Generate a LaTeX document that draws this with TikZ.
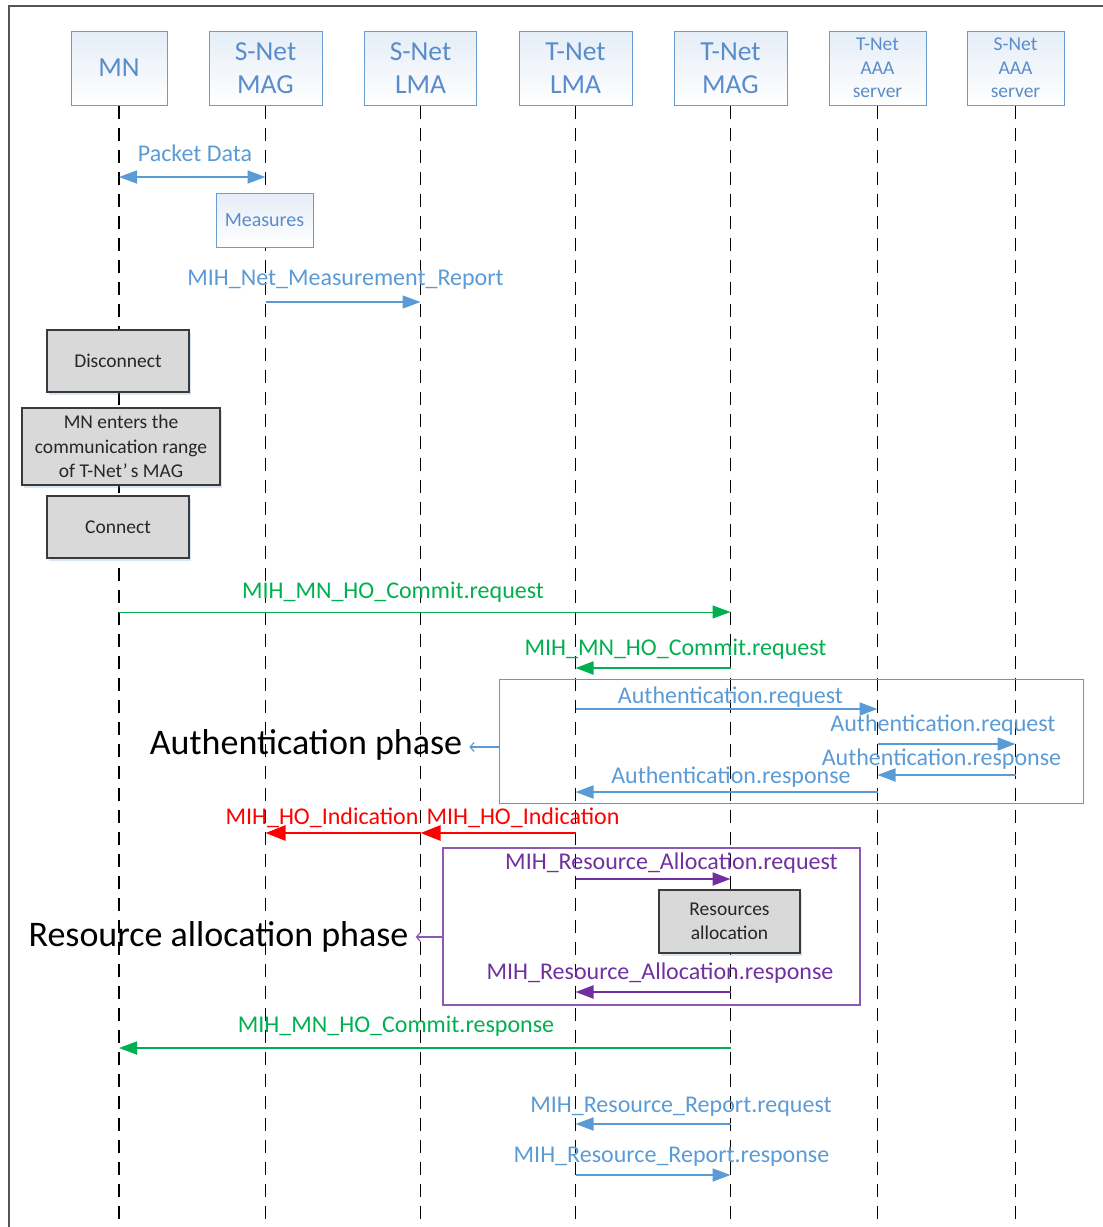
\documentclass[tikz,border=0pt]{standalone}
\usepackage{fontspec}
\setmainfont{Carlito}
\usetikzlibrary{arrows.meta,shadows}

\definecolor{hdrblue}{HTML}{6A9BD2}
\definecolor{hdrtext}{HTML}{5A8CCB}
\definecolor{msgblue}{HTML}{5B9BD5}
\definecolor{msggreen}{HTML}{00B050}
\definecolor{msgred}{HTML}{FF0000}
\definecolor{msgpurple}{HTML}{7030A0}
\definecolor{boxgrey}{HTML}{D9D9D9}
\definecolor{boxline}{HTML}{3A3A3A}
\definecolor{framegrey}{HTML}{555555}

\begin{document}
\begin{tikzpicture}[x=1pt,y=-1pt,
  entity/.style={draw=hdrblue, line width=1pt, top color=hdrblue!18, bottom color=white,
    text=hdrtext, align=center, inner sep=0pt, minimum height=74pt},
  bigname/.style={font=\fontsize{27.5}{33}\selectfont},
  smallname/.style={font=\fontsize{19.5}{23.5}\selectfont},
  lifeline/.style={draw=black, line width=1.5pt, dash pattern=on 13pt off 9pt},
  notebox/.style={draw=hdrblue, line width=1pt, top color=hdrblue!18, bottom color=white,
    text=hdrtext, font=\fontsize{20}{24}\selectfont, inner sep=0pt},
  greybox/.style={draw=boxline, line width=1.3pt, fill=boxgrey, text=black!85,
    font=\fontsize{19.5}{24.5}\selectfont, align=center, inner sep=0pt,
    drop shadow={shadow xshift=1.5pt, shadow yshift=-3pt, fill=hdrblue, opacity=0.25}},
  msglabel/.style={font=\fontsize{24}{28}\selectfont, inner sep=0pt},
  phaselabel/.style={font=\fontsize{36}{40}\selectfont, inner sep=0pt, text=black},
  tip/.style={-{Triangle[length=18pt,width=13pt]}},
  bluemsg/.style={draw=msgblue, line width=1.8pt, tip},
  greenmsg/.style={draw=msggreen, line width=1.8pt, tip},
  redmsg/.style={draw=msgred, line width=2.6pt, -{Triangle[length=20pt,width=15pt]}},
  purplemsg/.style={draw=msgpurple, line width=2pt, tip},
  phaselink/.style={line width=1.2pt, -{Straight Barb[length=4pt,width=9pt]}, shorten >=7pt}
]
% page extent and outer frame
\useasboundingbox (0,0) rectangle (1103,1227);
\draw[framegrey, line width=1.6pt] (9,1227) -- (9,6) -- (1103,6);

% participants
\node[entity, bigname, minimum width=96pt]  (mn)   at (119,68)   {MN};
\node[entity, bigname, minimum width=113pt] (smag) at (265.5,68) {S-Net\\MAG};
\node[entity, bigname, minimum width=112pt] (slma) at (420.5,68) {S-Net\\LMA};
\node[entity, bigname, minimum width=113pt] (tlma) at (575.5,68) {T-Net\\LMA};
\node[entity, bigname, minimum width=113pt] (tmag) at (730.5,68) {T-Net\\MAG};
\node[entity, smallname, minimum width=97pt] (taaa) at (877.5,68) {T-Net\\AAA\\server};
\node[entity, smallname, minimum width=97pt] (saaa) at (1015.5,68) {S-Net\\AAA\\server};

% lifelines
\foreach \p in {mn,smag,slma,tlma,tmag,taaa,saaa}
  \draw[lifeline] (\p.south) -- (\p.south |- 0,1227);

% phase frames
\node[draw=msgblue, line width=1pt, minimum width=584pt, minimum height=124pt, inner sep=0pt]
  (authbox) at (791,741) {};
\node[draw=msgpurple!80, line width=1.2pt, minimum width=417pt, minimum height=157pt, inner sep=0pt]
  (resbox) at (651.5,926.5) {};

% local events on the lifelines
\node[notebox, minimum width=97pt, minimum height=54pt] (measures) at (264.5,220) {Measures};
\node[greybox, minimum width=142pt, minimum height=62pt] (disc) at (118,361) {Disconnect};
\node[greybox, minimum width=198pt, minimum height=77pt] (enter) at (121,446.5)
  {MN enters the\\communication range\\of T-Net’\,s MAG};
\node[greybox, minimum width=142pt, minimum height=62pt] (conn) at (118,527) {Connect};
\node[greybox, minimum width=141pt, minimum height=63pt] (resalloc) at (729.5,921.5)
  {Resources\\allocation};

% messages
\draw[bluemsg, {Triangle[length=18pt,width=13pt]}-{Triangle[length=18pt,width=13pt]}]
  (mn.south |- 0,177) -- (smag.south |- 0,177);
\node[msglabel, text=msgblue] (lpkt) at (195,153) {Packet Data};

\draw[bluemsg, line width=1.5pt] (smag.south |- 0,302) -- (slma.south |- 0,302);
\node[msglabel, text=msgblue] (lmeas) at (345.5,280) {MIH\_Net\_Measurement\_Report};

\draw[greenmsg, line width=1pt] (mn.south |- 0,612) -- (tmag.south |- 0,612);
\node[msglabel, text=msggreen] (lcr1) at (393,592) {MIH\_MN\_HO\_Commit.request};

\draw[greenmsg] (tmag.south |- 0,668) -- (tlma.south |- 0,668);
\node[msglabel, text=msggreen] (lcr2) at (675.5,649) {MIH\_MN\_HO\_Commit.request};

\draw[bluemsg] (tlma.south |- 0,709) -- (taaa.south |- 0,709);
\node[msglabel, text=msgblue] (lar1) at (730.5,697) {Authentication.request};
\draw[bluemsg] (taaa.south |- 0,744) -- (saaa.south |- 0,744);
\node[msglabel, text=msgblue] (lar2) at (943,725) {Authentication.request};
\draw[bluemsg] (saaa.south |- 0,775) -- (taaa.south |- 0,775);
\node[msglabel, text=msgblue] (lars1) at (941.5,759) {Authentication.response};
\draw[bluemsg] (taaa.south |- 0,792) -- (tlma.south |- 0,792);
\node[msglabel, text=msgblue] (lars2) at (731,777) {Authentication.response};

\draw[redmsg] (tlma.south |- 0,833) -- (slma.south |- 0,833);
\draw[redmsg] (slma.south |- 0,833) -- (smag.south |- 0,833);
\node[msglabel, text=msgred] (lind1) at (322,818) {MIH\_HO\_Indication};
\node[msglabel, text=msgred] (lind2) at (523,818) {MIH\_HO\_Indication};

\draw[purplemsg] (tlma.south |- 0,879) -- (tmag.south |- 0,879);
\node[msglabel, text=msgpurple] (lrareq) at (671.5,863) {MIH\_Resource\_Allocation.request};
\draw[purplemsg] (tmag.south |- 0,992) -- (tlma.south |- 0,992);
\node[msglabel, text=msgpurple] (lrares) at (660,973) {MIH\_Resource\_Allocation.response};

\draw[greenmsg] (tmag.south |- 0,1048) -- (mn.south |- 0,1048);
\node[msglabel, text=msggreen] (lcres) at (396,1026) {MIH\_MN\_HO\_Commit.response};

\draw[bluemsg] (tmag.south |- 0,1124) -- (tlma.south |- 0,1124);
\node[msglabel, text=msgblue] (lrrq) at (681,1107) {MIH\_Resource\_Report.request};
\draw[bluemsg] (tlma.south |- 0,1175) -- (tmag.south |- 0,1175);
\node[msglabel, text=msgblue] (lrrs) at (671.5,1157) {MIH\_Resource\_Report.response};

% phase captions
\node[phaselabel] (authphase) at (306,745) {Authentication phase};
\node[phaselabel] (resphase) at (218.5,937) {Resource allocation phase};
\draw[phaselink, msgblue] (authbox.west |- 0,747) -- (authphase.east |- 0,747);
\draw[phaselink, msgpurple!80] (resbox.west |- 0,937) -- (resphase.east |- 0,937);
\end{tikzpicture}
\end{document}
